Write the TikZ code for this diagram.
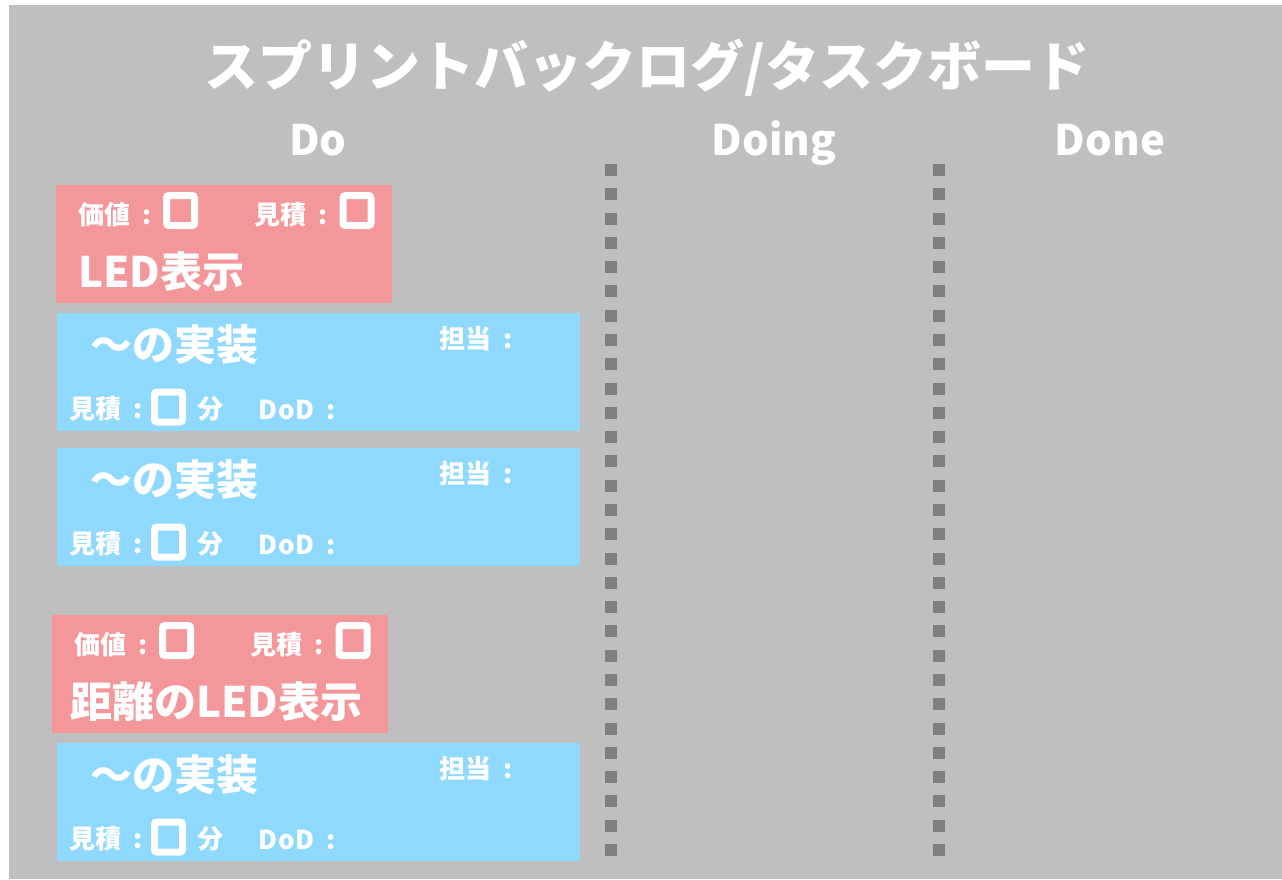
\documentclass[tikz,border=0pt]{standalone}
\usepackage{fontspec}
\setmainfont{Noto Sans CJK JP}
\definecolor{bggray}{HTML}{BFBFBF}
\definecolor{cardpink}{RGB}{243,151,155}
\definecolor{cardblue}{RGB}{143,217,255}
\definecolor{dotgray}{HTML}{7F7F7F}
\newcommand\colgap{\hspace{6pt}:}
\tikzset{
  cardbox/.style={anchor=north west, inner sep=0pt, outer sep=0pt, minimum width=#1, minimum height=118pt},
  lbl/.style={anchor=base west, inner sep=0pt, text=white, font=\bfseries\fontsize{26}{30}\selectfont},
  bigl/.style={anchor=base west, inner sep=0pt, text=white, font=\bfseries\fontsize{42}{48}\selectfont},
  head/.style={anchor=base, inner sep=0pt, text=white, font=\bfseries\fontsize{42}{48}\selectfont},
  chk/.style={draw=white, line width=7pt, rounded corners=2.5pt, inner sep=0pt, minimum width=28pt, minimum height=30pt},
  dotsq/.style={fill=dotgray}
}
\newcommand\taskcard[2]{%
  \begin{scope}[shift={(0,#2)}]
    \node[cardbox=523pt, fill=cardblue] (#1) at (57,313) {};
    \node[bigl] (#1-t) at (90,360) {～の実装};
    \node[lbl] (#1-a) at (439,348) {担当 \colgap};
    \node[lbl] (#1-e) at (69,418) {見積 \colgap};
    \node[chk, fill=cardblue] (#1-s) at (168.5,407) {};
    \node[lbl] (#1-m) at (197,418) {分};
    \node[lbl] (#1-d) at (258,419) {D\hspace{1pt}o\hspace{1pt}D \colgap};
  \end{scope}}
\newcommand\storycard[4]{%
  \begin{scope}[shift={(#2,#3)}]
    \node[cardbox=336pt, fill=cardpink] (#1) at (56,185) {};
    \node[lbl] (#1-v) at (78,224) {価値 \colgap};
    \node[chk, fill=cardpink] (#1-vs) at (180.5,210.5) {};
    \node[lbl] (#1-e) at (254,224) {見積 \colgap};
    \node[chk, fill=cardpink] (#1-es) at (357,210.5) {};
    \node[bigl] (#1-t) at (78,287) {#4};
  \end{scope}}
\begin{document}
\begin{tikzpicture}[x=1pt,y=-1pt]
\useasboundingbox (0,0) rectangle (1282,879);
\fill[white] (0,0) rectangle (1282,879);
\fill[bggray] (9,5) rectangle (1282,879);
\node[anchor=center, inner sep=0pt, text=white, font=\bfseries\fontsize{54}{62}\selectfont] (title) at (647,68) {スプリントバックログ/タスクボード};
\node[head] (hdo) at (318,155) {Do};
\node[head] (hdoing) at (774,155) {Doing};
\node[head] (hdone) at (1110,155) {Done};
\foreach \i in {0,...,28} {
  \fill[dotsq] (605,{164+\i*24.286}) rectangle ++(12,12);
  \fill[dotsq] (933,{164+\i*24.286}) rectangle ++(12,12);
}
\storycard{s1}{0}{0}{LED表示}
\taskcard{t1}{0}
\taskcard{t2}{135}
\storycard{s2}{-4}{430}{\hspace{-4pt}距離のLED表示}
\taskcard{t3}{430}
\end{tikzpicture}
\end{document}
